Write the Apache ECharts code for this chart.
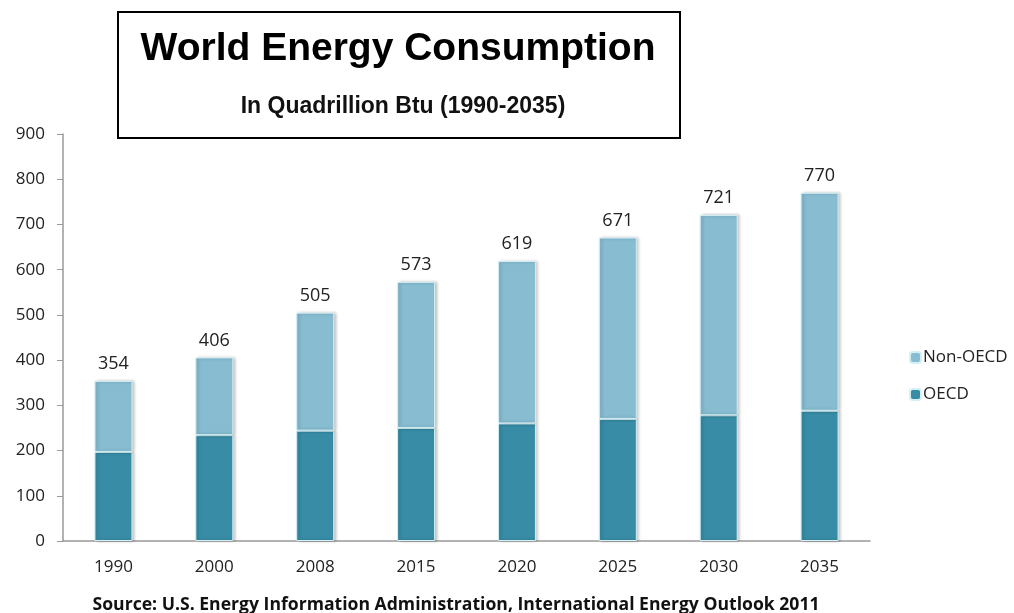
<!DOCTYPE html>
<html>
<head>
    <meta charset="utf-8">
    <title>World Energy Consumption</title>
    <script src="https://cdn.jsdelivr.net/npm/echarts@6/dist/echarts.min.js"></script>
    <style>
        body { margin: 0; background: #fff; }
    </style>
</head>
<body>
    <div id="main" style="width: 1014px;height:613px;"></div>
    <script type="text/javascript">
        // data
        var years = ['1990', '2000', '2008', '2015', '2020', '2025', '2030', '2035'];
        var oecd = [197, 234, 244, 250, 260, 270, 278, 288];
        var nonOecd = [157, 172, 261, 323, 359, 401, 443, 482];
        var totals = [354, 406, 505, 573, 619, 671, 721, 770];

        var myChart = echarts.init(document.getElementById('main'));

        var labelFont = 'Open Sans';

        var option = {
            animation: false,
            title: [{
                text: 'World Energy Consumption',
                left: 393,
                top: 25,
                textAlign: 'center',
                textStyle: { fontFamily: 'Liberation Sans', fontSize: 39, fontWeight: 'bold', color: '#000' }
            }, {
                text: 'In Quadrillion Btu (1990-2035)',
                left: 398,
                top: 90,
                textAlign: 'center',
                textStyle: { fontFamily: 'Liberation Sans', fontSize: 23, fontWeight: 'bold', color: '#111' }
            }, {
                text: 'Source: U.S. Energy Information Administration, International Energy Outlook 2011',
                left: 451,
                top: 591,
                textAlign: 'center',
                textStyle: { fontFamily: labelFont, fontSize: 17.6, fontWeight: 'bold', color: '#111' }
            }],
            graphic: [{
                type: 'rect',
                shape: { x: 118, y: 12, width: 562, height: 126 },
                style: { fill: 'none', stroke: '#000', lineWidth: 2 },
                z: 10
            }],
            legend: {
                orient: 'vertical',
                left: 904,
                top: 344,
                itemWidth: 11,
                itemHeight: 11,
                itemGap: 20,
                data: ['Non-OECD', 'OECD'],
                textStyle: { fontFamily: labelFont, fontSize: 17, color: '#222', padding: [0, 0, 0, -3] }
            },
            grid: {
                left: 63,
                right: 144,
                top: 134,
                bottom: 72
            },
            xAxis: {
                type: 'category',
                data: years,
                axisLine: { lineStyle: { color: '#999', width: 1.5 } },
                axisTick: { show: false },
                axisLabel: { fontFamily: labelFont, fontSize: 17, color: '#222', margin: 18 }
            },
            yAxis: {
                type: 'value',
                min: 0,
                max: 900,
                interval: 100,
                axisLine: { show: true, lineStyle: { color: '#999', width: 1.5 } },
                axisTick: { show: true, length: 6, lineStyle: { color: '#999' } },
                splitLine: { show: false },
                axisLabel: { fontFamily: labelFont, fontSize: 17, color: '#222', margin: 18 }
            },
            series: [{
                name: 'OECD',
                type: 'bar',
                stack: 'total',
                barWidth: 38,
                data: oecd,
                itemStyle: {
                    color: '#388ca6',
                    borderColor: '#d2f0f6',
                    borderWidth: 1,
                    shadowColor: 'rgba(0,0,0,0.25)',
                    shadowBlur: 3,
                    shadowOffsetX: 2
                }
            }, {
                name: 'Non-OECD',
                type: 'bar',
                stack: 'total',
                barWidth: 38,
                data: nonOecd,
                itemStyle: {
                    color: '#87bcd1',
                    borderColor: '#d2f0f6',
                    borderWidth: 1,
                    shadowColor: 'rgba(0,0,0,0.25)',
                    shadowBlur: 3,
                    shadowOffsetX: 2
                },
                label: {
                    show: true,
                    position: 'top',
                    distance: 8,
                    fontFamily: labelFont,
                    fontSize: 18,
                    color: '#222',
                    formatter: function (p) { return totals[p.dataIndex]; }
                }
            }]
        };

        myChart.setOption(option);
    </script>
</body>
</html>
